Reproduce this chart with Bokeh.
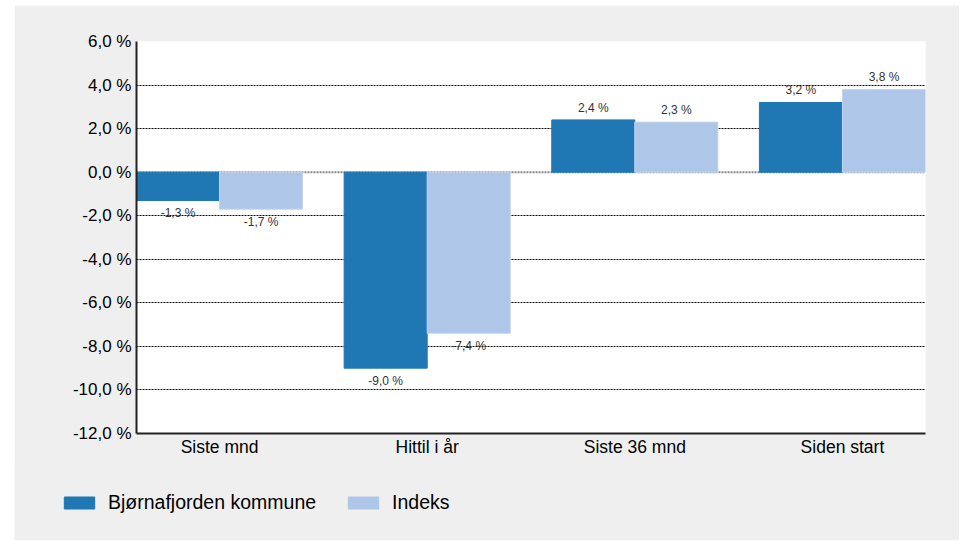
from bokeh.plotting import figure
from bokeh.models import (ColumnDataSource, Range1d, FixedTicker, CustomJSTickFormatter,
                          Legend, LegendItem, Span, Spacer)
from bokeh.layouts import row, column
from bokeh.core.properties import value
from bokeh.embed import file_html
from bokeh.resources import INLINE

categories = ["Siste mnd", "Hittil i år", "Siste 36 mnd", "Siden start"]
series_names = ["Bjørnafjorden kommune", "Indeks"]
kommune = [-1.3, -9.0, 2.4, 3.2]
indeks = [-1.7, -7.4, 2.3, 3.8]
y_ticks = [-12, -10, -8, -6, -4, -2, 0, 2, 4, 6]

DARK = "#1f77b4"
LIGHT = "#aec7e8"
BG = "#efefef"
FONT = "Liberation Sans"


def fmt(v):
    return f"{v:.1f}".replace(".", ",") + " %"


idx = list(range(len(categories)))

p = figure(width=945, height=460, output_backend="svg", toolbar_location=None,
           x_range=Range1d(-0.4, 3.4), y_range=Range1d(-12, 6),
           min_border_left=122, min_border_right=34, min_border_top=36, min_border_bottom=32)
p.border_fill_color = BG
p.background_fill_color = "white"
p.outline_line_color = None

src1 = ColumnDataSource(dict(x=[i - 0.2 for i in idx], top=kommune,
                             lab=[fmt(v) for v in kommune],
                             off=[-12 if v >= 0 else 13 for v in kommune]))
src2 = ColumnDataSource(dict(x=[i + 0.2 for i in idx], top=indeks,
                             lab=[fmt(v) for v in indeks],
                             off=[-12 if v >= 0 else 13 for v in indeks]))

zero = Span(location=0, dimension="width", line_color="#888888", line_width=2,
            line_dash="2 1", level="underlay")
p.add_layout(zero)

p.vbar(x="x", top="top", bottom=0, width=0.4, source=src1,
       fill_color=DARK, line_color=DARK, line_width=1)
p.vbar(x="x", top="top", bottom=0, width=0.4, source=src2,
       fill_color=LIGHT, line_color="#c3d6ee", line_width=1)

for s in (src1, src2):
    p.text(x="x", y="top", text="lab", source=s, y_offset="off",
           text_align="center", text_baseline="middle",
           text_font=value(FONT), text_font_size="12px", text_color="#333333")

# axes
p.yaxis.ticker = FixedTicker(ticks=y_ticks)
p.yaxis.formatter = CustomJSTickFormatter(code="return tick.toFixed(1).replace('.', ',') + ' %';")
p.xaxis.ticker = FixedTicker(ticks=idx)
p.xaxis.major_label_overrides = {i: c for i, c in zip(idx, categories)}
for ax in (p.xaxis[0], p.yaxis[0]):
    ax.axis_line_color = "#222222"
    ax.axis_line_width = 2
    ax.major_tick_line_color = None
    ax.minor_tick_line_color = None
    ax.major_tick_out = 0
    ax.major_tick_in = 0
    ax.minor_tick_out = 0
    ax.major_label_text_font = FONT
    ax.major_label_text_color = "#000000"
p.yaxis.major_label_text_font_size = "17px"
p.yaxis.major_label_standoff = 5
p.xaxis.major_label_text_font_size = "17.5px"
p.xaxis.major_label_standoff = 3

p.xgrid.grid_line_color = None
p.ygrid.ticker = FixedTicker(ticks=[t for t in y_ticks if t not in (0, -12)])
p.ygrid.grid_line_color = "#000000"
p.ygrid.grid_line_dash = "2 1"
p.ygrid.grid_line_width = 1

# legend strip below the chart (same series, drawn out of view; only the legend shows)
lf = figure(width=945, height=77, output_backend="svg", toolbar_location=None,
            x_range=Range1d(100, 101), y_range=Range1d(100, 101),
            x_axis_type=None, y_axis_type=None,
            min_border_left=0, min_border_right=0, min_border_top=0, min_border_bottom=0)
lf.border_fill_color = BG
lf.background_fill_color = BG
lf.outline_line_color = None
lf.grid.grid_line_color = None
lr1 = lf.vbar(x="x", top="top", bottom=0, width=0.4, source=src1,
              fill_color=DARK, line_color=DARK)
lr2 = lf.vbar(x="x", top="top", bottom=0, width=0.4, source=src2,
              fill_color=LIGHT, line_color=LIGHT)

legend = Legend(items=[LegendItem(label=series_names[0], renderers=[lr1]),
                       LegendItem(label=series_names[1], renderers=[lr2])],
                orientation="horizontal", location=(46, 26),
                glyph_width=38, glyph_height=15, label_standoff=10, spacing=28,
                padding=0, margin=0, border_line_color=None,
                background_fill_alpha=0,
                label_text_font=FONT, label_text_font_size="19.5px",
                label_text_color="#000000")
lf.add_layout(legend, "center")

legend_row = row(Spacer(width=14, height=10), lf, styles={"margin-top": "-2px"})
layout = column(Spacer(width=10, height=5),
                row(Spacer(width=14, height=10), p),
                legend_row)
open("out.html", "w").write(file_html(layout, INLINE))
